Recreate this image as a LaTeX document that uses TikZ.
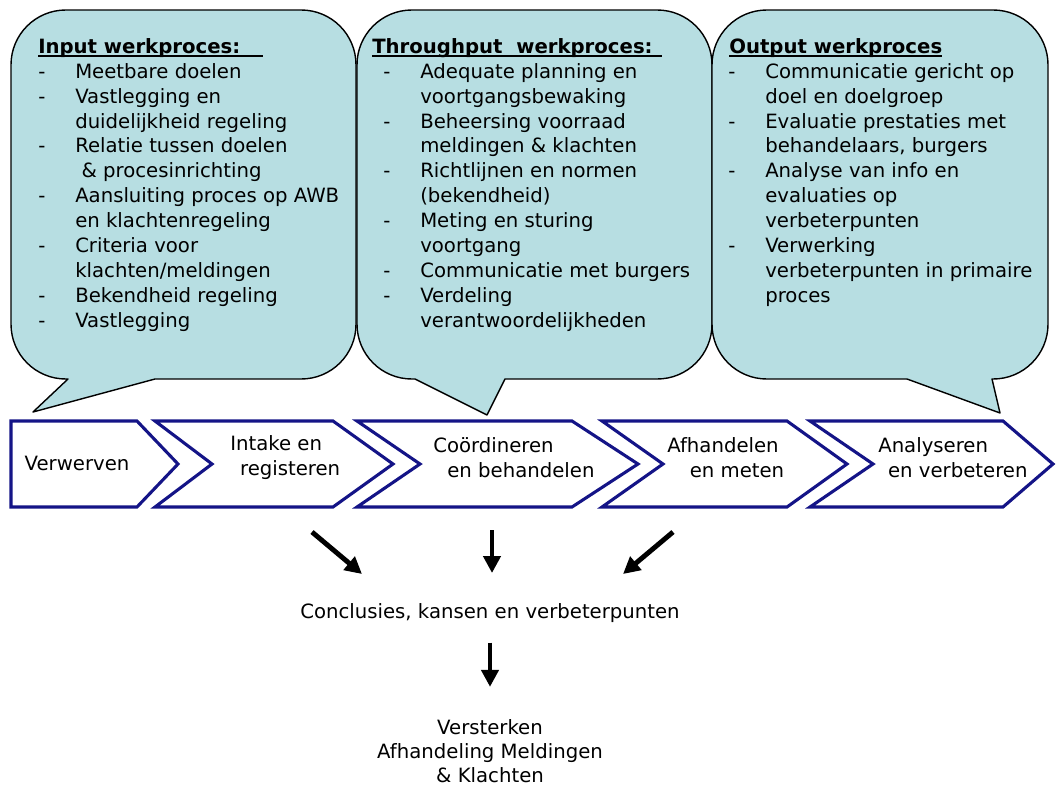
\documentclass[tikz,border=0pt]{standalone}
\usepackage{fontspec}
\setmainfont{DejaVu Sans}
\usetikzlibrary{arrows.meta}

\definecolor{calloutblue}{RGB}{183,222,226}
\definecolor{chevronblue}{RGB}{20,20,135}

\newcommand{\dashitem}{\makebox[26.3pt][l]{-}}
\newcommand{\contitem}{\hspace*{26.3pt}}
\newcommand{\ulhead}[1]{\leavevmode\setbox0=\hbox{#1}\rlap{\rule[-2.6pt]{\wd0}{1.4pt}}\box0}

\begin{document}
\begin{tikzpicture}
[x=0.025cm,y=-0.025cm,
  calloutDecorate/.style={draw=black,fill=calloutblue,line width=1pt,line join=round},
  chevronDecorate/.style={draw=chevronblue,fill=white,line width=2.2pt,line join=miter},
  textDecorate/.style={inner sep=0pt,align=left,font=\fontsize{14}{17.7}\selectfont},
  arrowDecorate/.style={line width=3.5pt,-{Triangle[length=12pt,width=12pt]}}]
\useasboundingbox (0,0) rectangle (1057,796);

%% speech callouts
\foreach \l/\r/\ta/\tb/\tx/\ty in {11/356/68/155/33/412, 357/712/415/505/487/415, 712/1048/907/992/1000/413} {
  \draw[calloutDecorate] (\tx,\ty) -- (\ta,379) [rounded corners=39pt] -- (\l,379) -- (\l,10)
    -- (\r,10) -- (\r,379) [sharp corners] -- (\tb,379) -- cycle;
}

%% callout texts
\node[textDecorate,anchor=north west] (inputHead) at (38,38)
  {\ulhead{\textbf{Input werkproces:}\hspace{16pt}}};
\node[textDecorate,anchor=north west] (inputList) at (38,63)
  {\dashitem Meetbare doelen\\
   \dashitem Vastlegging en\\
   \contitem duidelijkheid regeling\\
   \dashitem Relatie tussen doelen\\
   \contitem \ \& procesinrichting\\
   \dashitem Aansluiting proces op AWB\\
   \contitem en klachtenregeling\\
   \dashitem Criteria voor\\
   \contitem klachten/meldingen\\
   \dashitem Bekendheid regeling\\
   \dashitem Vastlegging};

\node[textDecorate,anchor=north west] (throughHead) at (372,38)
  {\ulhead{\textbf{Throughput\ \ werkproces:}\hspace{7pt}}};
\node[textDecorate,anchor=north west] (throughList) at (383,63)
  {\dashitem Adequate planning en\\
   \contitem voortgangsbewaking\\
   \dashitem Beheersing voorraad\\
   \contitem meldingen \& klachten\\
   \dashitem Richtlijnen en normen\\
   \contitem (bekendheid)\\
   \dashitem Meting en sturing\\
   \contitem voortgang\\
   \dashitem Communicatie met burgers\\
   \dashitem Verdeling\\
   \contitem verantwoordelijkheden};

\node[textDecorate,anchor=north west] (outputHead) at (729,38)
  {\ulhead{\textbf{Output werkproces}}};
\node[textDecorate,anchor=north west] (outputList) at (728,63)
  {\dashitem Communicatie gericht op\\
   \contitem doel en doelgroep\\
   \dashitem Evaluatie prestaties met\\
   \contitem behandelaars, burgers\\
   \dashitem Analyse van info en\\
   \contitem evaluaties op\\
   \contitem verbeterpunten\\
   \dashitem Verwerking\\
   \contitem verbeterpunten in primaire\\
   \contitem proces};

%% process chevrons
\draw[chevronDecorate] (11,421) -- (137,421) -- (178,464) -- (137,507) -- (11,507) -- cycle;
\foreach \l/\n/\c/\p in {155/212/333/393, 357/420/572/638, 602/663/787/847, 810/873/1003/1053} {
  \draw[chevronDecorate] (\l,421) -- (\c,421) -- (\p,464) -- (\c,507) -- (\l,507) -- (\n,464) -- cycle;
}

\node[textDecorate] (verwerven) at (77,463) {Verwerven};
\node[textDecorate,anchor=west] (intake) at (230,458) {Intake en\\\hspace*{7pt}registeren};
\node[textDecorate,anchor=west] (coord) at (433,458) {Coördineren\\\hspace*{10pt}en behandelen};
\node[textDecorate,anchor=west] (afhandel) at (667,458) {Afhandelen\\\hspace*{16pt}en meten};
\node[textDecorate,anchor=west] (analyse) at (878,458) {Analyseren\\\hspace*{7pt}en verbeteren};

%% conclusions
\node[textDecorate] (concl) at (490,613) {Conclusies, kansen en verbeterpunten};
\node[textDecorate,align=center,font=\fontsize{14}{17}\selectfont] (versterk) at (490,751) {Versterken\\Afhandeling Meldingen\\\& Klachten};

\coordinate (leftA) at (312,532);
\coordinate (leftB) at (362,574);
\coordinate (midA) at (492,530);
\coordinate (midB) at (492,573);
\coordinate (rightA) at (673,532);
\coordinate (rightB) at (623,574);

\draw[arrowDecorate] (leftA) -- (leftB);
\draw[arrowDecorate] (midA) -- (midB);
\draw[arrowDecorate] (rightA) -- (rightB);
\draw[arrowDecorate,shorten <=14pt,shorten >=23pt] (concl) -- (versterk);
\end{tikzpicture}
\end{document}
